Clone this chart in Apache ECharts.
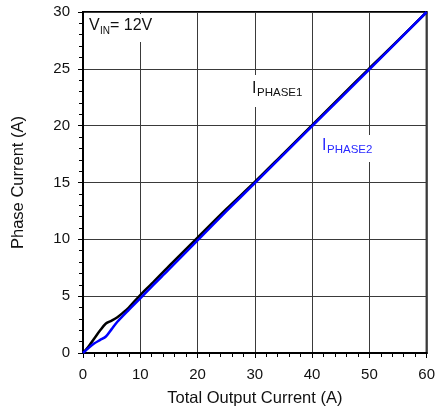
<!DOCTYPE html>
<html><head><meta charset="utf-8">
<script src="https://cdn.jsdelivr.net/npm/echarts@6/dist/echarts.min.js"></script>
<style>html,body{margin:0;padding:0;background:#fff}#c{width:438px;height:412px}</style>
</head><body><div id="c"></div>
<script>
const xTicks = [0, 10, 20, 30, 40, 50, 60];
const yTicks = [0, 5, 10, 15, 20, 25, 30];
const phase1X = [0, 1, 2, 3, 4, 5, 6, 7, 8, 10, 12, 15, 20, 25, 30, 35, 40, 45, 50, 55, 60];
const phase1Y = [0, 0.6, 1.3, 2.0, 2.6, 2.85, 3.15, 3.55, 4.0, 5.1, 6.1, 7.65, 10.15, 12.65, 15.05, 17.55, 20.05, 22.55, 25.05, 27.5, 30];
const phase2X = [0, 1, 2, 3, 4, 5, 6, 8, 10, 12, 15, 20, 25, 30, 40, 50, 60];
const phase2Y = [0, 0.45, 0.85, 1.15, 1.45, 2.1, 2.75, 3.8, 4.8, 5.85, 7.35, 9.9, 12.45, 14.95, 19.95, 24.95, 30];

const chart = echarts.init(document.getElementById('c'), null, {renderer: 'canvas'});
const FONT = 'Liberation Sans, Arial, sans-serif';
const gridLine = {show: true, lineStyle: {color: '#3a3a3a', width: 1}};
chart.setOption({
  animation: false,
  backgroundColor: '#fff',
  grid: {left: 83, right: 7, top: 12, bottom: 59, show: true, borderColor: '#000', borderWidth: 2, backgroundColor: 'transparent'},
  xAxis: {
    type: 'value', min: xTicks[0], max: xTicks[xTicks.length - 1], interval: 10,
    name: 'Total Output Current (A)', nameLocation: 'middle', nameGap: 37,
    nameTextStyle: {fontFamily: FONT, fontSize: 16.5, color: '#111'},
    axisLine: {show: true, onZero: false, lineStyle: {color: '#000', width: 2}},
    axisTick: {show: true, length: 5, lineStyle: {color: '#000', width: 1}},
    minorTick: {show: true, splitNumber: 5, length: 4, lineStyle: {color: '#000', width: 1}},
    axisLabel: {fontFamily: FONT, fontSize: 15, color: '#111', margin: 14},
    splitLine: gridLine
  },
  yAxis: {
    type: 'value', min: yTicks[0], max: yTicks[yTicks.length - 1], interval: 5,
    name: 'Phase Current (A)', nameLocation: 'middle', nameGap: 56,
    nameTextStyle: {fontFamily: FONT, fontSize: 16.5, color: '#111'},
    axisLine: {show: true, onZero: false, lineStyle: {color: '#000', width: 2}},
    axisTick: {show: true, length: 5, lineStyle: {color: '#000', width: 1}},
    minorTick: {show: true, splitNumber: 5, length: 4, lineStyle: {color: '#000', width: 1}},
    axisLabel: {fontFamily: FONT, fontSize: 15, color: '#111', margin: 13},
    splitLine: gridLine
  },
  series: [
    {type: 'line', name: 'IPHASE1', data: phase1X.map((x, i) => [x, phase1Y[i]]), showSymbol: false, smooth: 0.3,
     lineStyle: {color: '#000', width: 2.5}, z: 3},
    {type: 'line', name: 'IPHASE2', data: phase2X.map((x, i) => [x, phase2Y[i]]), showSymbol: false, smooth: 0.3,
     lineStyle: {color: '#0000ff', width: 2.5}, z: 4}
  ],
  graphic: [
    {type: 'rect', z: 10, shape: {x: 86, y: 14, width: 74, height: 28}, style: {fill: '#fff'}},
    {type: 'text', z: 11, x: 89, y: 18, style: {text: 'V', font: '16px ' + FONT, fill: '#111'}},
    {type: 'text', z: 11, x: 100, y: 26, style: {text: 'IN', font: '10px ' + FONT, fill: '#111'}},
    {type: 'text', z: 11, x: 110, y: 18, style: {text: '= 12V', font: '16px ' + FONT, fill: '#111'}},

    {type: 'rect', z: 10, shape: {x: 249, y: 75, width: 57, height: 32}, style: {fill: '#fff'}},
    {type: 'text', z: 11, x: 252, y: 81, style: {text: 'I', font: '16px ' + FONT, fill: '#111'}},
    {type: 'text', z: 11, x: 257, y: 87, style: {text: 'PHASE1', font: '11.5px ' + FONT, fill: '#111'}},

    {type: 'rect', z: 10, shape: {x: 319, y: 135, width: 58, height: 27}, style: {fill: '#fff'}},
    {type: 'text', z: 11, x: 322, y: 138, style: {text: 'I', font: '16px ' + FONT, fill: '#2a2aff'}},
    {type: 'text', z: 11, x: 327, y: 144, style: {text: 'PHASE2', font: '11.5px ' + FONT, fill: '#2a2aff'}}
  ]
});
</script></body></html>
